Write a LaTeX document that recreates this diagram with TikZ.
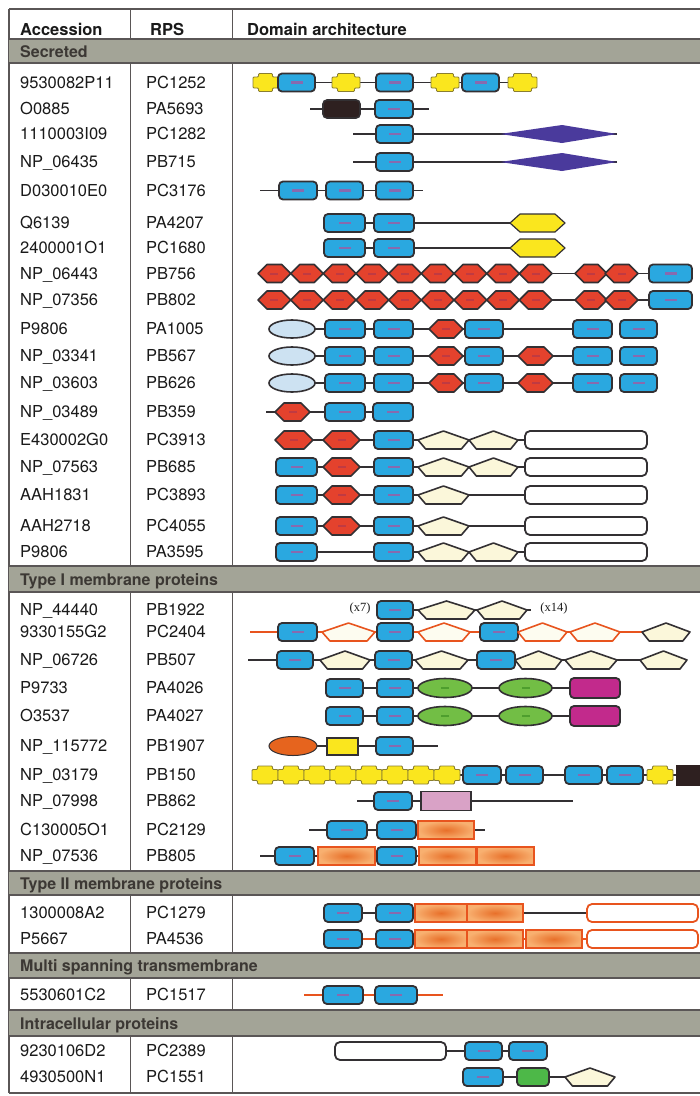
\documentclass[tikz,border=0pt]{standalone}
\usepackage{fontspec}
\setmainfont{TeX Gyre Heros}
\newfontfamily\serx{Liberation Serif}
\definecolor{dk}{HTML}{333033}
\definecolor{tline}{HTML}{5A5656}
\definecolor{bandc}{HTML}{A3A497}
\definecolor{bandt}{HTML}{3C3834}
\definecolor{cyanb}{HTML}{2AA8E0}
\definecolor{mkc}{HTML}{B0509A}
\definecolor{redh}{HTML}{E4422D}
\definecolor{mkr}{HTML}{B83848}
\definecolor{yel}{HTML}{FAE61E}
\definecolor{yeld}{HTML}{8A7E30}
\definecolor{blk}{HTML}{2E2020}
\definecolor{purp}{HTML}{4A3A9C}
\definecolor{lblue}{HTML}{CDE2F2}
\definecolor{cream}{HTML}{FBF7DA}
\definecolor{grn}{HTML}{72BE45}
\definecolor{grnd}{HTML}{4E9E2E}
\definecolor{mag}{HTML}{C22A8C}
\definecolor{oell}{HTML}{E6641E}
\definecolor{pink}{HTML}{D9A2C6}
\definecolor{oline}{HTML}{E8541E}
\definecolor{ordk}{HTML}{E8702A}
\definecolor{orlt}{HTML}{F8B070}
\definecolor{grbox}{HTML}{4DB848}
\definecolor{txt}{HTML}{1A1A1A}
\tikzset{
  tl/.style={draw=tline, line width=1.3pt},
  bb/.style={draw=dk, line width=1.8pt, fill=cyanb, rounded corners=4pt},
  mk/.style={fill=mkc, opacity=0.7},
  mkred/.style={fill=mkr, opacity=0.8},
  rh/.style={draw=dk, line width=1.6pt, fill=redh, line join=round},
  yh/.style={draw=dk, line width=1.2pt, fill=yel, line join=round},
  yc/.style={draw=yeld, line width=0.8pt, fill=yel, rounded corners=1pt},
  pn/.style={draw=dk, line width=1.6pt, fill=cream, line join=round},
  pno/.style={draw=oline, line width=1.6pt, fill=cream!40, line join=round},
  bk/.style={draw=dk, line width=1.5pt},
  ol/.style={draw=oline, line width=1.5pt},
  wr/.style={draw=dk, line width=1.8pt, fill=white, rounded corners=5pt},
  wro/.style={draw=oline, line width=1.8pt, fill=white, rounded corners=5pt},
  orr/.style={draw=oline, line width=1.2pt, inner color=ordk, outer color=orlt},
  acc/.style={anchor=base west, inner sep=0pt, font=\fontsize{16.5}{16.5}\selectfont, text=txt},
  hdr/.style={anchor=base west, inner sep=0pt, font=\fontsize{16.5}{16.5}\selectfont\bfseries, text=txt},
  bandtxt/.style={anchor=base west, inner sep=0pt, font=\fontsize{16}{16}\selectfont\bfseries, text=bandt},
  xlab/.style={inner sep=0pt, font=\serx\fontsize{12.5}{12.5}\selectfont, text=txt}
}
\newcommand\Bx[3]{\draw[bb] (#1,#3-9) rectangle (#2,#3+9);\fill[mk] ({(#1+#2)/2-6},#3-1.3) rectangle ({(#1+#2)/2+6},#3+1.3);}
\newcommand\Rh[3]{\draw[rh] (#1,#3) -- (#1+9,#3-9) -- (#2-9,#3-9) -- (#2,#3) -- (#2-9,#3+9) -- (#1+9,#3+9) -- cycle;\fill[mkred] ({(#1+#2)/2-4},#3-1) rectangle ({(#1+#2)/2+4},#3+1);}
\newcommand\Yh[3]{\draw[yh] (#1,#3) -- (#1+10,#3-9) -- (#2-10,#3-9) -- (#2,#3) -- (#2-10,#3+9) -- (#1+10,#3+9) -- cycle;}
\newcommand\Yc[3]{\draw[yc] (#1,#3-5.5) -- (#1+5.5,#3-5.5) -- (#1+5.5,#3-9) -- (#2-5.5,#3-9) -- (#2-5.5,#3-5.5) -- (#2,#3-5.5) -- (#2,#3+5.5) -- (#2-5.5,#3+5.5) -- (#2-5.5,#3+9) -- (#1+5.5,#3+9) -- (#1+5.5,#3+5.5) -- (#1,#3+5.5) -- cycle;}
\newcommand\Pn[4]{\draw[#1] (#2,#4) -- ({(#2+#3)/2},#4-9) -- (#3,#4) -- ({#3-0.15*(#3-#2)},#4+9) -- ({#2+0.15*(#3-#2)},#4+9) -- cycle;}
\newcommand\Orb[3]{\draw[orr] (#1,#3-9) rectangle (#2,#3+9);}
\newcommand\Dia[3]{\fill[purp] (#1,#3) -- ({#1+0.53*(#2-#1)},#3-9) -- (#2,#3) -- ({#1+0.53*(#2-#1)},#3+9) -- cycle;}
\newcommand\Gel[3]{\draw[draw=dk, line width=1.6pt, fill=grn] ({(#1+#2)/2},#3) ellipse ({(#2-#1)/2} and 9.5);\fill[grnd] ({(#1+#2)/2-4},#3-1) rectangle ({(#1+#2)/2+4},#3+1);}
\newcommand\Row[4]{\node[acc] (a#1) at (20,#2+5.9) {#3};\node[acc] (p#1) at (146,#2+5.9) {#4};}
\newcommand\Band[3]{\fill[bandc] (9,#1) rectangle (702,#2);\draw[tl] (9,#1) -- (702,#1);\draw[tl] (9,#2) -- (702,#2);}
\begin{document}
\begin{tikzpicture}[x=1pt,y=-1pt]
\useasboundingbox (0,0) rectangle (700,1096);
\fill[white] (0,0) rectangle (700,1096);
% table frame
\draw[tl] (9,9) -- (702,9);
\draw[tl] (9,1093) -- (702,1093);
\draw[tl] (9,9) -- (9,1093);
\foreach \xx in {130.5,232.5}{
  \draw[tl] (\xx,9) -- (\xx,39);
  \draw[tl] (\xx,63) -- (\xx,566);
  \draw[tl] (\xx,592) -- (\xx,871);
  \draw[tl] (\xx,895) -- (\xx,953);
  \draw[tl] (\xx,978) -- (\xx,1010);
  \draw[tl] (\xx,1036) -- (\xx,1093);
}
\Band{39}{63}{}
\Band{566}{592}{}
\Band{871}{895}{}
\Band{953}{978}{}
\Band{1010}{1036}{}
\node[bandtxt] (b1) at (20,57.5) {Secreted};
\node[bandtxt] (b2) at (20,585) {Type I membrane proteins};
\node[bandtxt] (b3) at (20,889) {Type II membrane proteins};
\node[bandtxt] (b4) at (20,971.5) {Multi spanning transmembrane};
\node[bandtxt] (b5) at (20,1029) {Intracellular proteins};
% header
\node[hdr] (h1) at (20,35) {Accession};
\node[hdr] (h2) at (150,35) {RPS};
\node[hdr] (h3) at (247,35) {Domain architecture};
% rows text
\Row{1}{82.5}{9530082P11}{PC1252}
\Row{2}{109}{O0885}{PA5693}
\Row{3}{134}{1110003I09}{PC1282}
\Row{4}{162}{NP\_06435}{PB715}
\Row{5}{190.5}{D030010E0}{PC3176}
\Row{6}{223}{Q6139}{PA4207}
\Row{7}{248}{2400001O1}{PC1680}
\Row{8}{273.5}{NP\_06443}{PB756}
\Row{9}{300}{NP\_07356}{PB802}
\Row{10}{329}{P9806}{PA1005}
\Row{11}{356}{NP\_03341}{PB567}
\Row{12}{383}{NP\_03603}{PB626}
\Row{13}{412}{NP\_03489}{PB359}
\Row{14}{440}{E430002G0}{PC3913}
\Row{15}{467}{NP\_07563}{PB685}
\Row{16}{495}{AAH1831}{PC3893}
\Row{17}{526}{AAH2718}{PC4055}
\Row{18}{552}{P9806}{PA3595}
\Row{19}{610}{NP\_44440}{PB1922}
\Row{20}{632}{9330155G2}{PC2404}
\Row{21}{660}{NP\_06726}{PB507}
\Row{22}{688}{P9733}{PA4026}
\Row{23}{716}{O3537}{PA4027}
\Row{24}{746}{NP\_115772}{PB1907}
\Row{25}{775}{NP\_03179}{PB150}
\Row{26}{801}{NP\_07998}{PB862}
\Row{27}{830}{C130005O1}{PC2129}
\Row{28}{856}{NP\_07536}{PB805}
\Row{29}{913}{1300008A2}{PC1279}
\Row{30}{939}{P5667}{PA4536}
\Row{31}{995}{5530601C2}{PC1517}
\Row{32}{1051}{9230106D2}{PC2389}
\Row{33}{1077}{4930500N1}{PC1551}
% ---- domain architectures ----
% r1
\draw[bk] (253,82.5) -- (537,82.5);
\Yc{253}{278}{82.5}\Bx{278}{315}{82.5}\Yc{332}{360}{82.5}\Bx{376}{413}{82.5}\Yc{431}{459}{82.5}\Bx{462}{499}{82.5}\Yc{508}{537}{82.5}
% r2
\draw[bk] (310,109) -- (429,109);
\draw[draw=dk, line width=1.6pt, fill=blk, rounded corners=4pt] (323,100) rectangle (360,118);
\Bx{375}{413}{109}
% r3, r4
\foreach \yy in {134,162}{
  \draw[bk] (353,\yy) -- (617,\yy);
  \Bx{376}{413}{\yy}
  \Dia{500}{617}{\yy}
}
% r5
\draw[bk] (260,190.5) -- (423,190.5);
\Bx{279}{317}{190.5}\Bx{326}{363}{190.5}\Bx{376}{413}{190.5}
% r6 r7
\foreach \yy in {223,248}{
  \draw[bk] (324,\yy) -- (510,\yy);
  \Bx{324}{365}{\yy}\Bx{374}{414}{\yy}\Yh{510}{565}{\yy}
}
% r8 r9
\foreach \yy in {273.5,300}{
  \draw[bk] (258,\yy) -- (649,\yy);
  \foreach \k in {0,...,8}{\pgfmathsetmacro\xa{258+32.67*\k}\pgfmathsetmacro\xb{\xa+32.67}\Rh{\xa}{\xb}{\yy}}
  \Rh{575}{607}{\yy}\Rh{605}{638}{\yy}\Bx{649}{692}{\yy}
}
% r10
\draw[bk] (315,329) -- (573,329);
\draw[draw=dk, line width=1.6pt, fill=lblue] (292,329) ellipse (23 and 9);
\Bx{325}{365}{329}\Bx{374}{413}{329}\Rh{429}{463}{329}\Bx{465}{503}{329}\Bx{573}{612}{329}\Bx{620}{657}{329}
% r11 r12
\foreach \yy in {356,383}{
  \draw[bk] (315,\yy) -- (573,\yy);
  \draw[draw=dk, line width=1.6pt, fill=lblue] (292,\yy) ellipse (23 and 9);
  \Bx{325}{365}{\yy}\Bx{374}{413}{\yy}\Rh{429}{463}{\yy}\Bx{465}{503}{\yy}\Rh{518}{553}{\yy}\Bx{573}{612}{\yy}\Bx{620}{657}{\yy}
}
% r13
\draw[bk] (266,412) -- (373,412);
\Rh{275}{310}{412}\Bx{325}{365}{412}\Bx{373}{413}{412}
% r14
\draw[bk] (275,440) -- (525,440);
\Rh{275}{313}{440}\Rh{323}{360}{440}\Bx{374}{413}{440}\Pn{pn}{418}{469}{440}\Pn{pn}{469}{518}{440}
\draw[wr] (525,431) rectangle (647,449);
% r15
\draw[bk] (276,467) -- (525,467);
\Bx{276}{317}{467}\Rh{323}{360}{467}\Bx{374}{413}{467}\Pn{pn}{418}{469}{467}\Pn{pn}{469}{518}{467}
\draw[wr] (525,458) rectangle (647,476);
% r16 r17
\foreach \yy in {495,526}{
  \draw[bk] (276,\yy) -- (525,\yy);
  \Bx{276}{317}{\yy}\Rh{323}{360}{\yy}\Bx{374}{413}{\yy}\Pn{pn}{418}{469}{\yy}
  \draw[wr] (525,\yy-9) rectangle (647,\yy+9);
}
% r18
\draw[bk] (276,552) -- (525,552);
\Bx{276}{317}{552}\Bx{374}{413}{552}\Pn{pn}{418}{469}{552}\Pn{pn}{469}{518}{552}
\draw[wr] (525,543) rectangle (647,561);
% r19
\draw[bk] (413,610) -- (531,610);
\node[xlab] (x7) at (360,608) {(x7)};
\Bx{377}{413}{610}\Pn{pn}{418}{475}{610}\Pn{pn}{477}{527}{610}
\node[xlab] (x14) at (554,608) {(x14)};
% r20
\draw[ol] (250,632) -- (642,632);
\Bx{278}{317}{632}\Pn{pno}{322}{375}{632}\Bx{377}{413}{632}\Pn{pno}{418}{470}{632}\Bx{480}{518}{632}\Pn{pno}{518}{567}{632}\Pn{pno}{570}{620}{632}\Pn{pn}{642}{690}{632}
% r21
\draw[bk] (248,660) -- (640,660);
\Bx{277}{313}{660}\Pn{pn}{320}{370}{660}\Bx{375}{412}{660}\Pn{pn}{415}{468}{660}\Bx{477}{515}{660}\Pn{pn}{515}{562}{660}\Pn{pn}{565}{617}{660}\Pn{pn}{640}{687}{660}
% r22 r23
\foreach \yy in {688,716}{
  \draw[bk] (326,\yy) -- (570,\yy);
  \Bx{326}{363}{\yy}\Bx{377}{413}{\yy}\Gel{418}{472}{\yy}\Gel{499}{552}{\yy}
  \draw[draw=dk, line width=1.8pt, fill=mag, rounded corners=4pt] (570,\yy-10) rectangle (620,\yy+10);
}
% r24
\draw[bk] (293,746) -- (438,746);
\draw[draw=dk, line width=1pt, fill=oell] (293,746) ellipse (24 and 9.5);
\draw[draw=dk, line width=1.2pt, fill=yel] (327,738) rectangle (358,755);
\Bx{376}{413}{746}
% r25
\draw[bk] (252,775) -- (680,775);
\foreach \k in {0,...,7}{\pgfmathsetmacro\xa{252+26*\k}\pgfmathsetmacro\xb{\xa+26}\Yc{\xa}{\xb}{775}}
\Bx{463}{501}{775}\Bx{506}{543}{775}\Bx{565}{602}{775}\Bx{607}{643}{775}\Yc{647}{673}{775}
\fill[blk] (676,765) rectangle (702,786);
% r26
\draw[bk] (357,801) -- (573,801);
\Bx{374}{412}{801}
\draw[draw=dk, line width=1.4pt, fill=pink] (421,791.5) rectangle (471,810.5);
% r27
\draw[bk] (309,830) -- (485,830);
\Bx{327}{367}{830}\Bx{377}{416}{830}\Orb{418}{474}{830}
% r28
\draw[bk] (260,856) -- (534,856);
\Bx{275}{314}{856}\Orb{318}{375}{856}\Bx{377}{416}{856}\Orb{419}{476}{856}\Orb{477}{534}{856}
% r29
\draw[bk] (324,913) -- (587,913);
\Bx{324}{362}{913}\Bx{376}{413}{913}\Orb{415}{467}{913}\Orb{467}{523}{913}
\draw[wro] (587,904) rectangle (698,922);
% r30
\draw[ol] (324,939) -- (587,939);
\Bx{324}{362}{939}\Bx{376}{413}{939}\Orb{415}{467}{939}\Orb{467}{523}{939}\Orb{526}{582}{939}
\draw[wro] (587,930) rectangle (698,948);
% r31
\draw[ol] (304,995) -- (443,995);
\Bx{323}{363}{995}\Bx{375}{417}{995}
% r32
\draw[bk] (335,1051) -- (547,1051);
\draw[wr] (335,1042) rectangle (446,1060);
\Bx{465}{502}{1051}\Bx{509}{547}{1051}
% r33
\draw[bk] (463,1077) -- (615,1077);
\Bx{463}{503}{1077}
\draw[draw=dk, line width=1.8pt, fill=grbox, rounded corners=4pt] (517,1068) rectangle (549,1086);
\Pn{pn}{565}{615}{1077}
\end{tikzpicture}
\end{document}
